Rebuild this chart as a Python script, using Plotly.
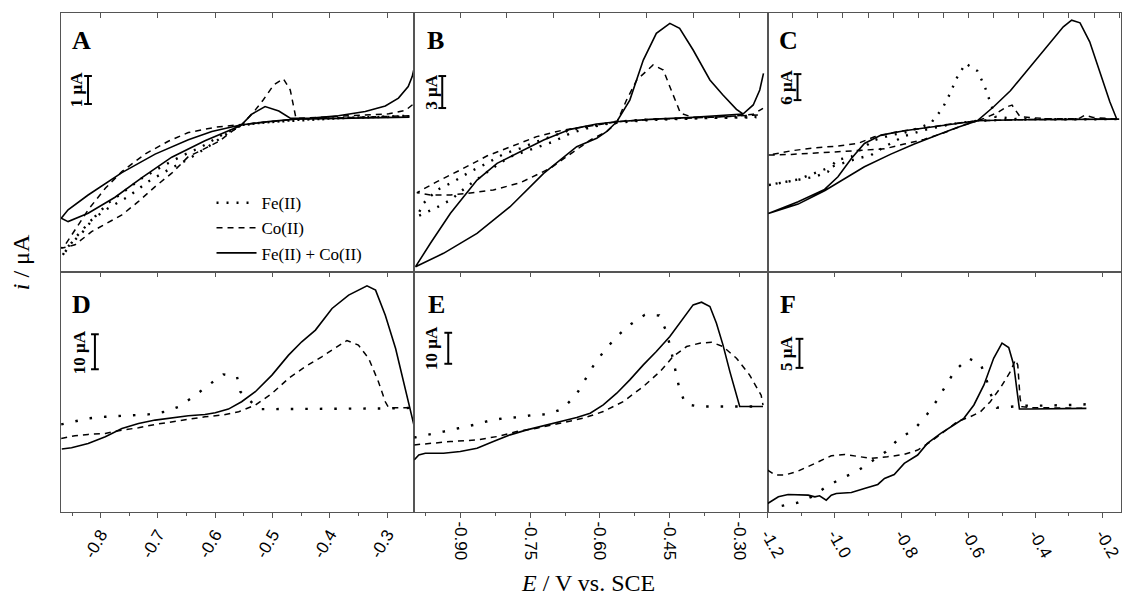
import plotly.graph_objects as go
from plotly.subplots import make_subplots

# ---------------- data (E / V vs SCE, i / uA relative) ----------------
A_fe_x = [-0.261,-0.355,-0.460,-0.530,-0.556,-0.588,-0.623,-0.658,-0.693,-0.728,-0.757,-0.787,-0.810,-0.833,-0.857,-0.868,
          -0.845,-0.816,-0.787,-0.752,-0.717,-0.682,-0.647,-0.612,-0.577,-0.554,-0.507,-0.460,-0.385,-0.297,-0.261]
A_fe_y = [0.01,-0.02,-0.11,-0.23,-0.32,-0.64,-1.06,-1.39,-1.77,-2.19,-2.63,-3.08,-3.56,-4.15,-4.63,-4.99,
          -4.33,-3.68,-3.26,-2.85,-2.31,-1.89,-1.51,-1.06,-0.56,-0.29,-0.19,-0.13,-0.05,0.01,0.04]
A_co_x = [-0.261,-0.355,-0.460,-0.554,-0.600,-0.647,-0.682,-0.722,-0.763,-0.792,-0.822,-0.845,-0.862,-0.869,-0.845,-0.816,
          -0.787,-0.763,-0.734,-0.705,-0.676,-0.647,-0.623,-0.594,-0.571,-0.554,-0.530,-0.516,-0.498,-0.481,-0.469,-0.463,
          -0.459,-0.414,-0.355,-0.297,-0.268,-0.252]
A_co_y = [0.04,-0.02,-0.08,-0.27,-0.37,-0.56,-0.87,-1.32,-1.95,-2.55,-3.32,-4.04,-4.57,-4.69,-4.57,-4.10,
          -3.77,-3.50,-3.02,-2.49,-2.01,-1.42,-1.18,-0.88,-0.52,-0.29,0.25,0.61,1.14,1.36,0.96,0.37,
          -0.05,-0.01,0.04,0.11,0.23,0.49]
A_mix_x = [-0.261,-0.355,-0.414,-0.460,-0.507,-0.556,-0.606,-0.647,-0.705,-0.763,-0.822,-0.857,-0.869,-0.857,-0.822,-0.775,
           -0.728,-0.676,-0.618,-0.577,-0.556,-0.536,-0.513,-0.489,-0.469,-0.437,-0.385,-0.338,-0.303,-0.280,-0.263,-0.256,-0.252]
A_mix_y = [-0.01,-0.04,-0.06,-0.08,-0.17,-0.29,-0.52,-0.82,-1.33,-1.99,-2.79,-3.32,-3.62,-3.74,-3.44,-2.87,
           -2.17,-1.44,-0.85,-0.49,-0.32,0.10,0.37,0.21,-0.05,-0.05,0.04,0.19,0.39,0.67,1.08,1.44,1.80]

B_fe_x = [-0.264,-0.364,-0.493,-0.564,-0.621,-0.664,-0.700,-0.736,-0.771,-0.807,-0.843,-0.879,-0.914,-0.950,-0.979,-0.993,
          -0.954,-0.921,-0.886,-0.857,-0.821,-0.793,-0.757,-0.729,-0.700,-0.664,-0.621,-0.579,-0.493,-0.364,-0.264]
B_fe_y = [0.03,-0.06,-0.22,-0.44,-0.84,-1.22,-1.78,-2.31,-2.94,-3.47,-4.34,-5.13,-6.06,-6.84,-8.09,-9.34,
          -8.56,-7.78,-6.53,-5.59,-4.50,-3.72,-3.16,-2.78,-2.31,-1.53,-0.97,-0.59,-0.28,-0.09,-0.03]
B_co_x = [-0.261,-0.364,-0.493,-0.564,-0.621,-0.679,-0.736,-0.793,-0.843,-0.900,-0.950,-0.993,-0.964,-0.921,-0.886,-0.829,
          -0.771,-0.707,-0.671,-0.621,-0.586,-0.564,-0.543,-0.521,-0.486,-0.464,-0.450,-0.436,-0.427,-0.400,-0.329,-0.271,-0.250]
B_co_y = [0.19,-0.03,-0.22,-0.44,-0.84,-1.22,-1.84,-2.78,-3.66,-4.97,-6.06,-7.09,-7.31,-7.31,-7.16,-6.84,
          -6.16,-4.81,-3.72,-2.16,-1.38,-0.53,1.59,3.47,4.88,4.41,2.84,1.28,0.34,-0.03,0.03,0.25,0.81]
B_mix_x = [-0.293,-0.400,-0.493,-0.564,-0.607,-0.664,-0.721,-0.771,-0.821,-0.864,-0.893,-0.921,-0.964,-0.996,-0.936,-0.864,
           -0.793,-0.721,-0.650,-0.607,-0.586,-0.564,-0.536,-0.507,-0.479,-0.450,-0.429,-0.400,-0.364,-0.336,-0.307,-0.293,
           -0.271,-0.257,-0.249]
B_mix_y = [0.28,-0.03,-0.22,-0.44,-0.66,-1.16,-2.16,-3.25,-4.34,-5.91,-7.47,-9.03,-11.84,-14.03,-12.78,-10.91,
           -8.41,-5.28,-2.78,-2.00,-1.38,-0.44,1.59,5.34,7.84,8.78,8.31,6.28,3.47,2.06,0.72,0.28,
           1.13,2.53,4.09]

C_fe_x = [-0.158,-0.317,-0.455,-0.520,-0.537,-0.552,-0.574,-0.609,-0.636,-0.655,-0.678,-0.713,-0.752,-0.792,-0.832,-0.881,
          -0.911,-0.950,-0.995,-1.020,-1.059,-1.109,-1.158,-1.198,-1.109,-1.010,-0.931,-0.891,-0.851,-0.792,-0.733,-0.653,
          -0.574,-0.455,-0.158]
C_fe_y = [0.0,0.0,0.0,0.54,4.38,7.62,11.15,12.85,9.38,5.92,2.46,-1.0,-2.15,-3.15,-3.69,-4.85,
          -6.38,-8.69,-9.46,-12.15,-13.31,-14.08,-14.69,-15.23,-13.92,-11.0,-9.08,-8.31,-6.38,-3.92,-2.54,-1.15,
          -0.38,-0.08,0.0]
C_co_x = [-0.158,-0.228,-0.252,-0.272,-0.366,-0.446,-0.460,-0.470,-0.485,-0.515,-0.554,-0.574,-0.653,-0.733,-0.812,-0.881,
          -0.931,-0.990,-1.059,-1.129,-1.198,-1.129,-1.059,-0.990,-0.911,-0.851,-0.792,-0.733,-0.673,-0.614,-0.574,-0.515,
          -0.416,-0.317,-0.158]
C_co_y = [0.0,0.38,0.92,0.08,0.08,0.54,2.08,3.23,2.85,1.46,0.15,-0.38,-1.15,-2.0,-2.92,-4.08,
          -5.62,-6.23,-6.62,-7.31,-8.31,-8.15,-7.92,-7.54,-7.15,-6.85,-5.77,-4.69,-3.15,-1.38,-0.38,-0.23,
          -0.08,-0.08,0.0]
C_mix_x = [-0.150,-0.317,-0.455,-0.574,-0.634,-0.713,-0.792,-0.861,-0.911,-0.950,-0.990,-1.030,-1.109,-1.198,-1.109,-1.030,
           -0.970,-0.911,-0.832,-0.762,-0.693,-0.634,-0.574,-0.525,-0.475,-0.416,-0.356,-0.317,-0.292,-0.267,-0.238,-0.208,
           -0.178,-0.158]
C_mix_y = [0.0,-0.08,-0.15,-0.38,-1.0,-1.77,-2.69,-3.69,-5.62,-9.08,-13.31,-16.23,-19.08,-21.77,-19.62,-16.54,
           -13.69,-11.0,-8.08,-5.77,-3.69,-1.92,-0.38,2.85,6.54,12.08,17.46,21.31,22.85,22.23,17.85,10.92,
           4.0,0.15]

D_fe_x = [-0.869,-0.845,-0.822,-0.792,-0.763,-0.740,-0.717,-0.688,-0.664,-0.638,-0.612,-0.586,-0.562,-0.556,-0.524,-0.501,
          -0.472,-0.414,-0.355,-0.297,-0.253]
D_fe_y = [-4.67,-3.71,-2.95,-2.48,-2.19,-2.0,-1.81,-1.05,0.38,3.24,6.57,9.62,8.95,4.67,-0.29,-0.29,
          -0.29,-0.29,-0.29,-0.10,0.10]
D_co_x = [-0.869,-0.845,-0.822,-0.792,-0.763,-0.734,-0.705,-0.676,-0.647,-0.618,-0.588,-0.559,-0.530,-0.501,-0.472,-0.443,
          -0.414,-0.390,-0.370,-0.350,-0.332,-0.315,-0.303,-0.297,-0.253]
D_co_y = [-8.67,-7.90,-7.52,-7.24,-6.29,-5.62,-4.67,-3.90,-3.14,-2.48,-2.0,-1.05,0.86,4.19,8.48,11.81,
          14.67,17.24,19.33,18.0,14.19,7.52,1.81,0.10,0.10]
D_mix_x = [-0.868,-0.851,-0.822,-0.792,-0.763,-0.734,-0.705,-0.676,-0.647,-0.618,-0.600,-0.577,-0.554,-0.530,-0.501,-0.472,
           -0.449,-0.425,-0.396,-0.367,-0.335,-0.320,-0.303,-0.285,-0.268,-0.253]
D_mix_y = [-11.71,-11.33,-10.10,-8.19,-5.81,-4.38,-3.43,-2.76,-2.19,-1.81,-1.33,-0.29,1.81,4.67,9.43,15.14,
           18.95,22.29,28.48,32.29,34.95,33.71,26.57,17.05,5.71,-4.86]

E_fe_x = [-0.999,-0.968,-0.936,-0.904,-0.871,-0.839,-0.807,-0.775,-0.743,-0.711,-0.681,-0.652,-0.634,-0.614,-0.591,-0.564,
          -0.536,-0.504,-0.473,-0.459,-0.450,-0.436,-0.429,-0.416,-0.386,-0.354,-0.321,-0.250]
E_fe_y = [-9.89,-9.03,-7.96,-6.88,-5.81,-4.52,-3.66,-3.33,-2.58,-2.37,-0.65,3.66,8.39,13.33,18.06,22.69,
          26.45,29.68,29.46,24.84,20.0,10.54,5.48,0.86,0.11,0.11,0.11,0.11]
E_co_x = [-0.999,-0.964,-0.921,-0.864,-0.821,-0.779,-0.736,-0.686,-0.636,-0.593,-0.550,-0.507,-0.471,-0.443,-0.414,-0.386,
          -0.361,-0.336,-0.307,-0.279,-0.254,-0.250]
E_co_y = [-12.26,-11.72,-11.18,-10.65,-9.57,-7.96,-6.88,-5.27,-3.66,-1.51,1.72,6.56,11.40,16.24,19.46,20.54,
          20.86,19.46,15.70,10.32,3.76,0.54]
E_mix_x = [-0.999,-0.989,-0.975,-0.936,-0.900,-0.864,-0.829,-0.793,-0.757,-0.721,-0.686,-0.650,-0.621,-0.593,-0.564,-0.536,
           -0.507,-0.479,-0.450,-0.421,-0.400,-0.382,-0.364,-0.350,-0.336,-0.321,-0.300,-0.250]
E_mix_y = [-17.10,-15.48,-14.95,-14.95,-14.41,-13.33,-11.18,-9.03,-7.42,-6.02,-4.73,-3.44,-2.04,0.65,4.41,8.71,
           13.55,17.85,22.69,28.60,32.90,33.76,32.37,26.99,20.0,11.29,0.11,0.11]

F_fe_x = [-1.158,-1.112,-1.069,-1.025,-0.980,-0.936,-0.891,-0.847,-0.807,-0.762,-0.723,-0.695,-0.668,-0.641,-0.601,-0.564,
          -0.547,-0.535,-0.515,-0.470,-0.426,-0.381,-0.337,-0.292,-0.250]
F_fe_y = [-16.84,-16.32,-15.29,-13.56,-12.13,-10.98,-9.25,-7.53,-5.23,-3.68,-1.03,1.26,3.85,6.38,8.56,7.59,
          5.0,2.53,0.06,0.23,0.40,0.40,0.40,0.52,0.63]
F_co_x = [-1.200,-1.178,-1.149,-1.109,-1.059,-1.010,-0.970,-0.931,-0.891,-0.842,-0.792,-0.752,-0.713,-0.673,-0.634,-0.594,
          -0.564,-0.535,-0.505,-0.475,-0.460,-0.453,-0.446,-0.441,-0.416,-0.248]
F_co_y = [-10.69,-11.55,-11.55,-10.86,-9.54,-8.22,-7.99,-8.39,-8.68,-8.39,-7.99,-7.24,-5.80,-4.08,-2.36,-1.49,
          -0.63,1.09,3.45,6.26,8.28,7.41,1.67,0.23,0.06,-0.06]
F_mix_x = [-1.200,-1.168,-1.139,-1.109,-1.079,-1.059,-1.045,-1.025,-1.010,-0.995,-0.950,-0.911,-0.871,-0.851,-0.822,-0.792,
           -0.752,-0.723,-0.683,-0.644,-0.614,-0.584,-0.554,-0.525,-0.500,-0.480,-0.465,-0.455,-0.448,-0.416,-0.248]
F_mix_y = [-16.44,-15.29,-14.89,-14.89,-15.0,-15.29,-15.11,-15.86,-15.0,-14.71,-14.54,-13.85,-13.16,-12.13,-11.44,-9.54,
           -8.10,-6.09,-4.37,-2.93,-1.78,0.52,3.97,8.56,11.15,10.40,7.41,2.87,-0.17,-0.17,-0.06]

series_names = ["Fe(II)", "Co(II)", "Fe(II) + Co(II)"]
panel_letters = ["A", "B", "C", "D", "E", "F"]
scale_labels = ["1 μA", "3 μA", "6 μA", "10 μA", "10 μA", "5 μA"]
scale_values = [1, 3, 6, 10, 10, 5]
scale_bottoms = [0.46, 0.84, 4.39, 11.1, 13.9, 6.9]

col1_tickvals = [-0.8, -0.7, -0.6, -0.5, -0.4, -0.3]
col1_ticktext = ["-0.8", "-0.7", "-0.6", "-0.5", "-0.4", "-0.3"]
col2_tickvals = [-0.90, -0.75, -0.60, -0.45, -0.30]
col2_ticktext = ["-0.90", "-0.75", "-0.60", "-0.45", "-0.30"]
col3_tickvals = [-1.2, -1.0, -0.8, -0.6, -0.4, -0.2]
col3_ticktext = ["-1.2", "-1.0", "-0.8", "-0.6", "-0.4", "-0.2"]

# ---------------- figure ----------------
panels = [
    (A_fe_x, A_fe_y, A_co_x, A_co_y, A_mix_x, A_mix_y),
    (B_fe_x, B_fe_y, B_co_x, B_co_y, B_mix_x, B_mix_y),
    (C_fe_x, C_fe_y, C_co_x, C_co_y, C_mix_x, C_mix_y),
    (D_fe_x, D_fe_y, D_co_x, D_co_y, D_mix_x, D_mix_y),
    (E_fe_x, E_fe_y, E_co_x, E_co_y, E_mix_x, E_mix_y),
    (F_fe_x, F_fe_y, F_co_x, F_co_y, F_mix_x, F_mix_y),
]
x_ranges = [[-0.8694, -0.2523], [-0.9986, -0.24], [-1.2, -0.1446]]
y_ranges = [[-5.54, 3.71], [-14.53, 9.75], [-35.3, 24.5],
            [-29.7, 38.9], [-33.9, 43.5], [-17.9, 23.4]]

fig = make_subplots(rows=2, cols=3, horizontal_spacing=0, vertical_spacing=0,
                    row_heights=[259, 240])

SERIF = "Liberation Serif"
SANS = "Liberation Sans"
FRAME = "#555555"

for i, (fx, fy, cx, cy, mx, my) in enumerate(panels):
    r, c = i // 3 + 1, i % 3 + 1
    top = r == 1
    dot = "2px,8px" if top else "2.5px,12px"
    show = i == 0
    fig.add_trace(go.Scatter(x=fx, y=fy, mode="lines", name=series_names[0], legendgroup="fe",
                             showlegend=show, line=dict(color="black", width=2.4, dash=dot)), row=r, col=c)
    fig.add_trace(go.Scatter(x=cx, y=cy, mode="lines", name=series_names[1], legendgroup="co",
                             showlegend=show, line=dict(color="black", width=1.5, dash="6px,5px")), row=r, col=c)
    fig.add_trace(go.Scatter(x=mx, y=my, mode="lines", name=series_names[2], legendgroup="mix",
                             showlegend=show, line=dict(color="black", width=1.6)), row=r, col=c)

# axes
tick_specs = [(col1_tickvals, col1_ticktext, -60, 0.05, -0.85),
              (col2_tickvals, col2_ticktext, 90, 0.075, -1.05),
              (col3_tickvals, col3_ticktext, 60, 0.1, -1.3)]
top_ticks = [(-0.8, 0.1), (-0.9, 0.1), (-1.125, 0.075)]
for i in range(6):
    r, c = i // 3 + 1, i % 3 + 1
    fig.update_yaxes(range=y_ranges[i], showticklabels=False, ticks="", showgrid=False, zeroline=False,
                     showline=True, mirror=True, linecolor=FRAME, linewidth=1, row=r, col=c)
    if r == 1:
        t0, dt = top_ticks[c - 1]
        fig.update_xaxes(range=x_ranges[c - 1], side="top", showticklabels=False, ticks="inside",
                         ticklen=5, tickcolor=FRAME, tick0=t0, dtick=dt, showgrid=False, zeroline=False,
                         showline=True, mirror=True, linecolor=FRAME, linewidth=1, row=r, col=c)
    else:
        tv, tt, ang, mdt, m0 = tick_specs[c - 1]
        fig.update_xaxes(range=x_ranges[c - 1], tickvals=tv, ticktext=tt, tickangle=ang, ticks="outside",
                         ticklen=5, tickcolor=FRAME, showgrid=False, zeroline=False,
                         tickfont=dict(family=SANS, size=17, color="black"),
                         minor=dict(ticks="outside", ticklen=3, tickcolor=FRAME, dtick=mdt, tick0=m0, showgrid=False),
                         showline=True, mirror=True, linecolor=FRAME, linewidth=1, row=r, col=c)

# inside top ticks for bottom row (overlay axes)
for k, c in enumerate([4, 5, 6]):
    ax_name = f"xaxis{7 + k}"
    tv, tt, ang, mdt, m0 = tick_specs[k]
    fig.update_layout(**{ax_name: dict(overlaying=f"x{c}", anchor=f"y{c}", side="top",
                                        range=x_ranges[k], tickvals=tv, ticks="inside", ticklen=5,
                                        tickcolor=FRAME, showticklabels=False, showgrid=False,
                                        zeroline=False, showline=False)})
    fig.add_trace(go.Scatter(x=[], y=[], xaxis=f"x{7 + k}", yaxis=f"y{c}", showlegend=False))

# scale bars & labels, panel letters
bar_x = [0.0765, 0.079, 0.0845, 0.096, 0.096, 0.090]
lab_x = [0.043, 0.046, 0.051, 0.052, 0.049, 0.054]
let_x = [0.025, 0.031, 0.027, 0.025, 0.034, 0.028]
let_y = [0.958, 0.958, 0.958, 0.933, 0.933, 0.933]
for i in range(6):
    xs = "x" if i == 0 else f"x{i + 1}"
    ys = "y" if i == 0 else f"y{i + 1}"
    y0 = scale_bottoms[i]
    y1 = y0 + scale_values[i]
    cap = 0.011
    for (xa, ya, xb, yb) in [(bar_x[i], y0, bar_x[i], y1), (bar_x[i] - cap, y0, bar_x[i] + cap, y0),
                             (bar_x[i] - cap, y1, bar_x[i] + cap, y1)]:
        fig.add_shape(type="line", xref=f"{xs} domain", yref=ys, x0=xa, y0=ya, x1=xb, y1=yb,
                      line=dict(color="black", width=2))
    fig.add_annotation(xref=f"{xs} domain", yref=ys, x=lab_x[i], y=(y0 + y1) / 2,
                       text=f"<b>{scale_labels[i]}</b>", textangle=-90, showarrow=False,
                       xanchor="center", yanchor="middle", font=dict(family=SERIF, size=17, color="black"))
    fig.add_annotation(xref=f"{xs} domain", yref=f"{ys} domain", x=let_x[i], y=let_y[i],
                       text=f"<b>{panel_letters[i]}</b>", showarrow=False, xanchor="left", yanchor="top",
                       font=dict(family=SERIF, size=26, color="black"))

# axis titles
fig.add_annotation(xref="paper", yref="paper", x=0.497, y=-0.142, xanchor="center", yanchor="middle",
                   text="<i>E</i> / V vs. SCE", showarrow=False, font=dict(family=SERIF, size=24, color="black"))
fig.add_annotation(xref="paper", yref="paper", x=-0.038, y=0.5, xanchor="center", yanchor="middle",
                   text="<i>i</i> / μA", textangle=-90, showarrow=False,
                   font=dict(family=SERIF, size=24, color="black"))

fig.update_layout(
    width=1129, height=607,
    margin=dict(l=61, r=6, t=13, b=95),
    paper_bgcolor="white", plot_bgcolor="white",
    showlegend=True,
    legend=dict(x=0.142, y=0.655, xanchor="left", yanchor="top", bgcolor="rgba(0,0,0,0)",
                font=dict(family=SERIF, size=17, color="black"), tracegroupgap=0, itemwidth=40),
)

fig.write_html("out.html")
